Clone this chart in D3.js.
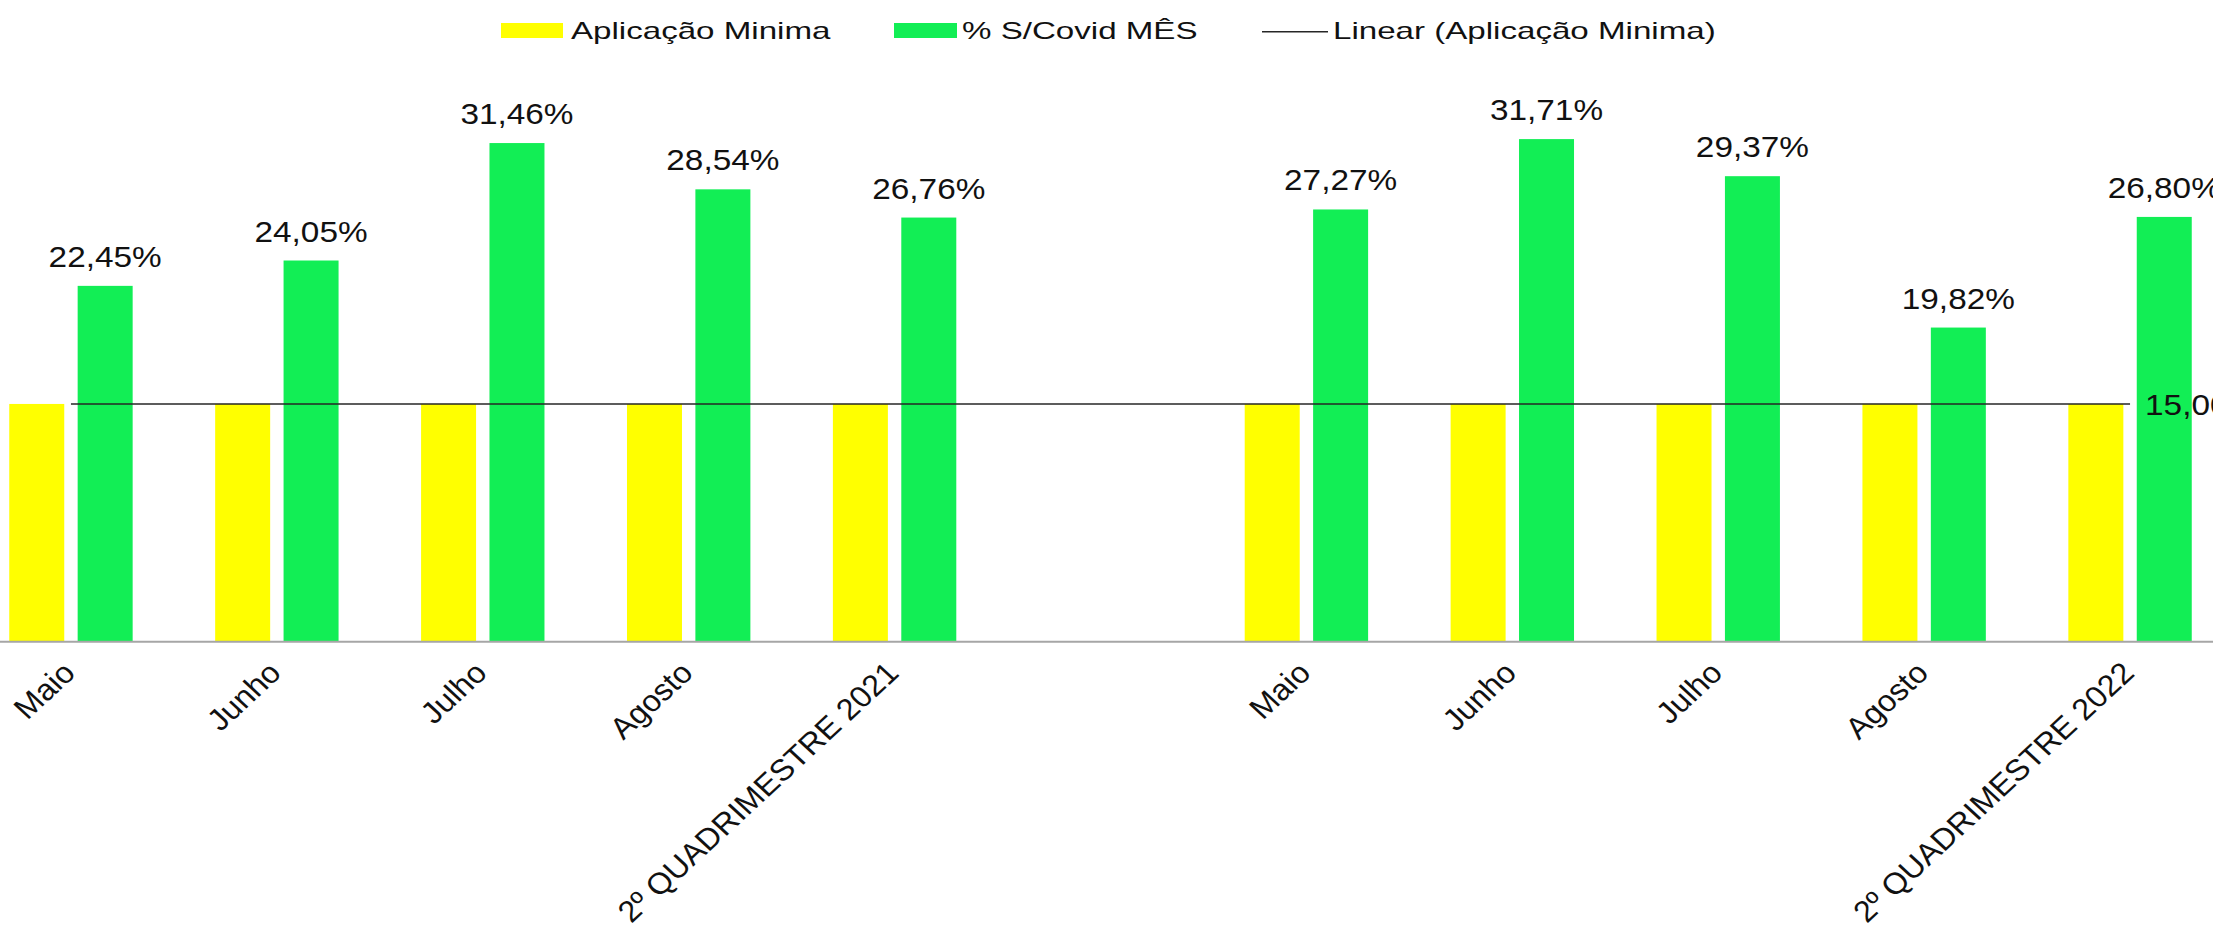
<!DOCTYPE html>
<html>
<head>
<meta charset="utf-8">
<script src="https://cdn.jsdelivr.net/npm/d3@7"></script>
<style>
  body { margin: 0; background: #fff; }
  svg { display: block; font-family: 'Liberation Sans', Arial, sans-serif; }
</style>
</head>
<body>
<div class="main"></div>
<script>
// data (slot 5 is the empty gap between the two years)
const categories = ['Maio', 'Junho', 'Julho', 'Agosto', '2º QUADRIMESTRE 2021', '',
                    'Maio', 'Junho', 'Julho', 'Agosto', '2º QUADRIMESTRE 2022'];
const aplicacaoMinima = [15, 15, 15, 15, 15, null, 15, 15, 15, 15, 15];
const covidMes = [22.45, 24.05, 31.46, 28.54, 26.76, null, 27.27, 31.71, 29.37, 19.82, 26.80];
const seriesNames = ['Aplicação Minima', '% S/Covid MÊS', 'Linear (Aplicação Minima)'];

const w = 2213, h = 931;
const YELLOW = '#ffff00', GREEN = '#12ee55';

const fmt = v => v.toFixed(2).replace('.', ',') + '%';

const svg = d3.select('.main')
  .append('svg')
  .attr('width', w)
  .attr('height', h);

svg.append('rect').attr('width', w).attr('height', h).attr('fill', '#fff');

const idx = categories.map((c, i) => i);

const x0 = d3.scaleBand()
  .domain(idx)
  .range([-32, 2233])
  .paddingInner(0)
  .paddingOuter(0);

const x1 = d3.scaleBand()
  .domain(['apl', 'cov'])
  .range([-61.7, 61.7])
  .paddingInner(0.196);

const y = d3.scaleLinear()
  .domain([0, 35])
  .range([641.7, 641.7 - 35 * 15.85]);

const center = i => x0(i) + x0.bandwidth() / 2;

// bars
const bars = svg.append('g').attr('class', 'bars');

bars.selectAll('rect.apl')
  .data(idx.filter(i => aplicacaoMinima[i] != null))
  .enter()
  .append('rect')
  .attr('class', 'apl')
  .attr('x', i => center(i) + x1('apl'))
  .attr('width', x1.bandwidth())
  .attr('y', i => y(aplicacaoMinima[i]))
  .attr('height', i => y(0) - y(aplicacaoMinima[i]))
  .attr('fill', YELLOW);

bars.selectAll('rect.cov')
  .data(idx.filter(i => covidMes[i] != null))
  .enter()
  .append('rect')
  .attr('class', 'cov')
  .attr('x', i => center(i) + x1('cov'))
  .attr('width', x1.bandwidth())
  .attr('y', i => y(covidMes[i]))
  .attr('height', i => y(0) - y(covidMes[i]))
  .attr('fill', GREEN);

// baseline
svg.append('line')
  .attr('x1', 0).attr('x2', w)
  .attr('y1', y(0)).attr('y2', y(0))
  .attr('stroke', '#a6a6a6')
  .attr('stroke-width', 2);

// linear trend of Aplicação Minima (least squares over the defined points)
const pts = idx.filter(i => aplicacaoMinima[i] != null).map(i => [i, aplicacaoMinima[i]]);
const mx = d3.mean(pts, p => p[0]), my = d3.mean(pts, p => p[1]);
const sxx = d3.sum(pts, p => (p[0] - mx) ** 2);
const sxy = d3.sum(pts, p => (p[0] - mx) * (p[1] - my));
const slope = sxy / sxx, icpt = my - slope * mx;
const first = pts[0][0], last = pts[pts.length - 1][0];
const trend = [first, last].map(i => [i, icpt + slope * i]);

svg.append('path')
  .datum(trend)
  .attr('d', d3.line().x(d => center(d[0])).y(d => y(d[1])))
  .attr('fill', 'none')
  .attr('stroke', '#262626')
  .attr('stroke-width', 1.6);

// stretched text helper (the picture is wider than a normal font)
const stretched = (g, x, yy, sx, txt, size, anchor) => g.append('text')
  .attr('transform', `translate(${x},${yy}) scale(${sx},1)`)
  .attr('font-size', size)
  .attr('text-anchor', anchor || 'start')
  .attr('fill', '#111')
  .text(txt);

const labels = svg.append('g').attr('class', 'labels');
idx.filter(i => covidMes[i] != null).forEach(i => {
  stretched(labels, center(i) + x1('cov') + x1.bandwidth() / 2, y(covidMes[i]) - 19,
    1.15, fmt(covidMes[i]), 29, 'middle');
});

// label at the end of the trend line
stretched(labels, center(last) + 15, y(trend[1][1]) + 11, 1.15, fmt(trend[1][1]), 29, 'start');

// category labels, rotated
const cats = svg.append('g').attr('class', 'cats');
cats.selectAll('text')
  .data(idx.filter(i => categories[i] !== ''))
  .enter()
  .append('text')
  .attr('transform', i => `translate(${center(i) + 6},${y(0) + 33}) scale(1.08,1) rotate(-45)`)
  .attr('text-anchor', 'end')
  .attr('font-size', 30)
  .attr('fill', '#111')
  .text(i => categories[i]);

// legend
const legend = svg.append('g').attr('class', 'legend');
legend.append('rect').attr('x', 501).attr('y', 23).attr('width', 62).attr('height', 15).attr('fill', YELLOW);
stretched(legend, 571, 39, 1.38, seriesNames[0], 24);
legend.append('rect').attr('x', 894).attr('y', 23).attr('width', 63).attr('height', 15).attr('fill', GREEN);
stretched(legend, 962, 39, 1.38, seriesNames[1], 24);
legend.append('line').attr('x1', 1262).attr('x2', 1328).attr('y1', 31.7).attr('y2', 31.7)
  .attr('stroke', '#262626').attr('stroke-width', 1.6);
stretched(legend, 1333, 39, 1.38, seriesNames[2], 24);
</script>
</body>
</html>
